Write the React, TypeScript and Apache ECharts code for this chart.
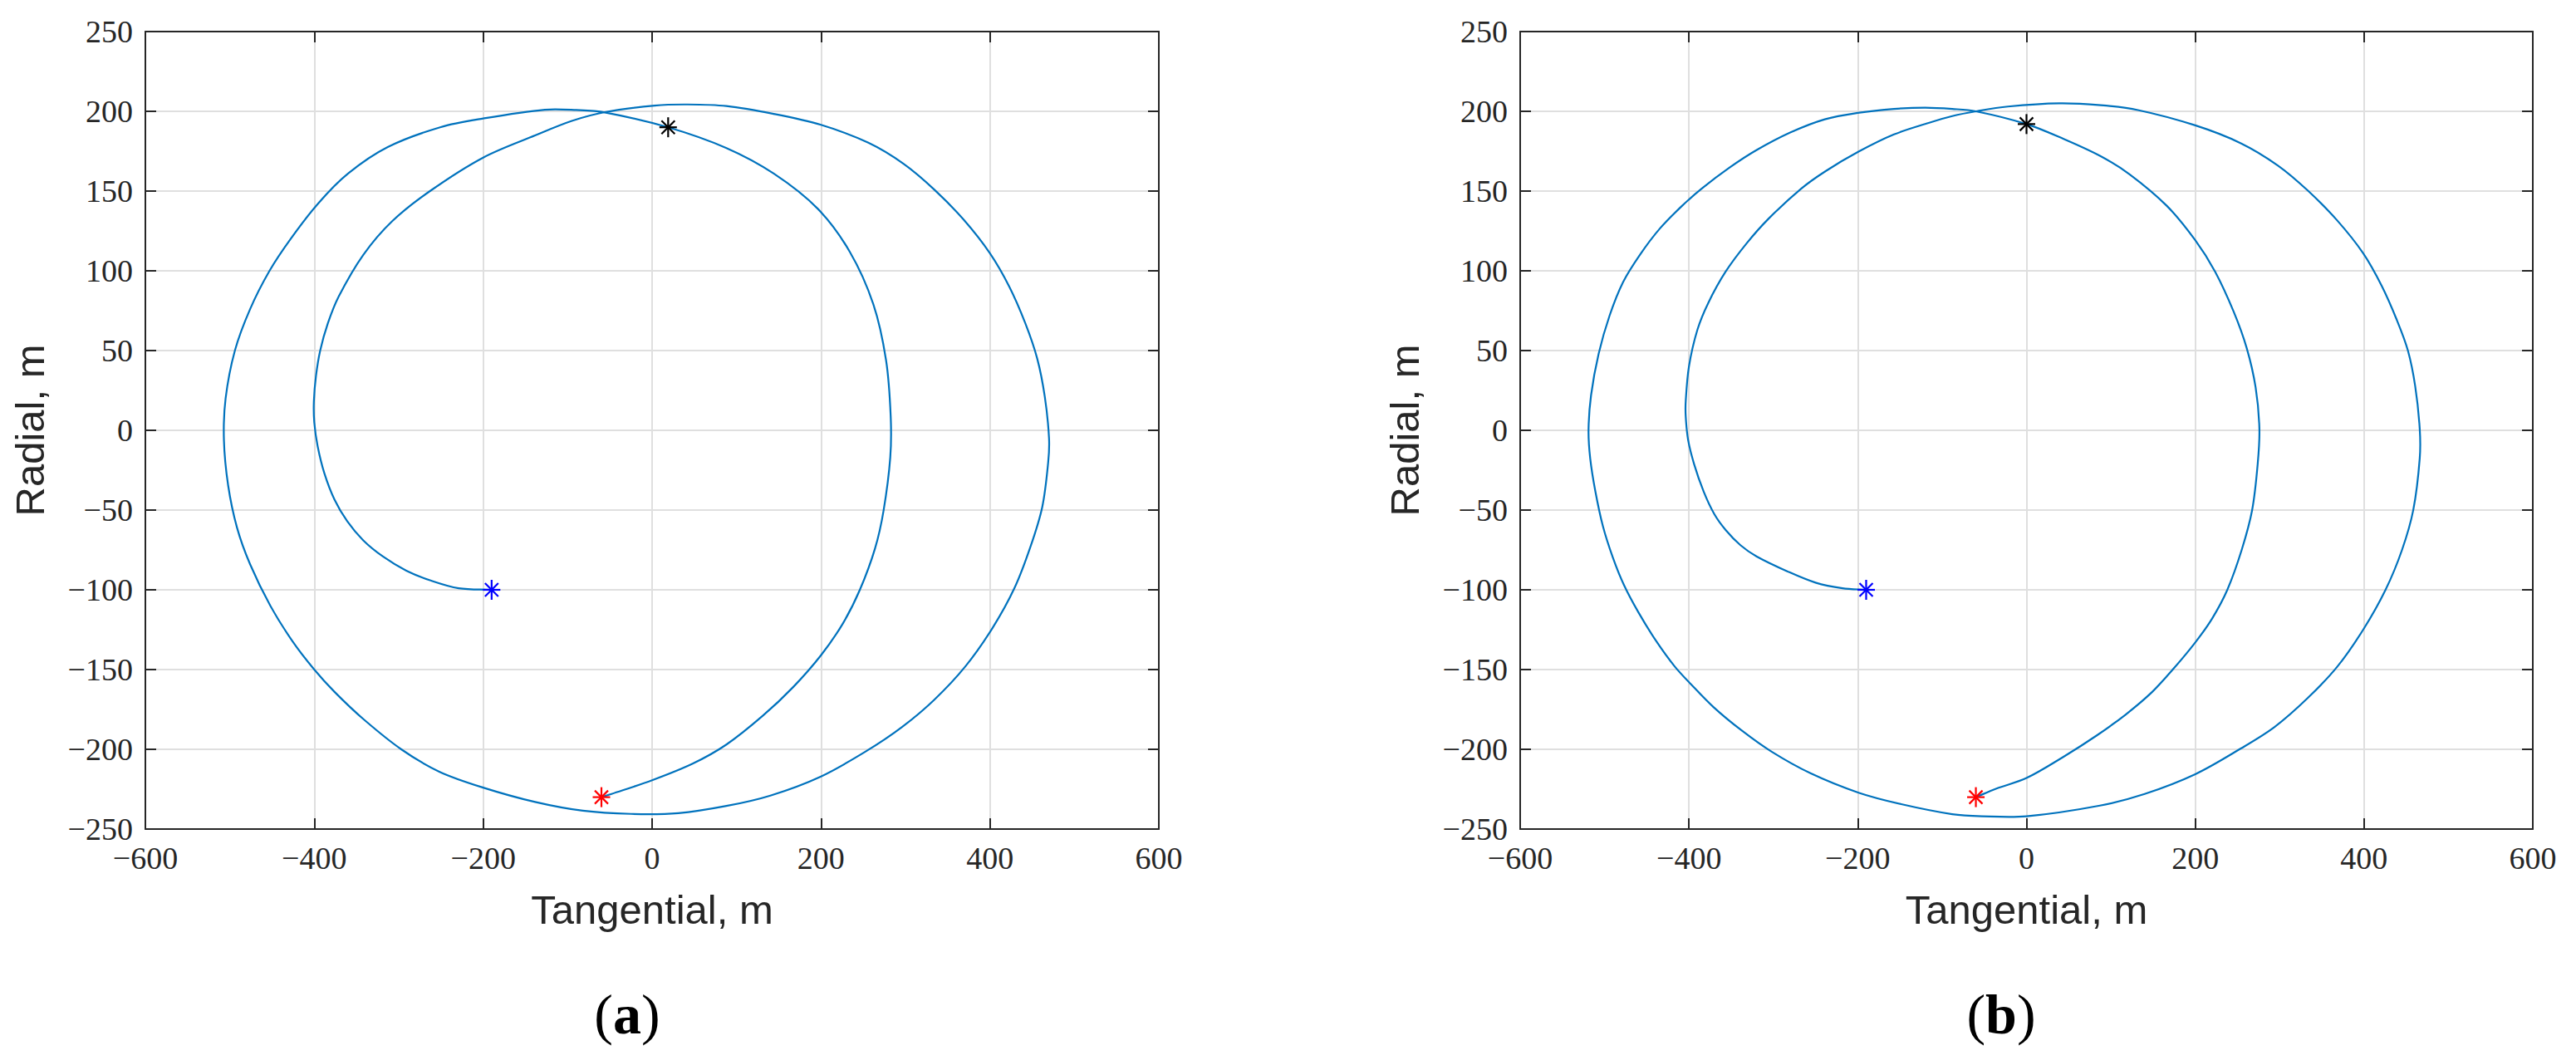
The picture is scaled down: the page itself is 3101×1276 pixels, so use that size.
import React, { useEffect, useRef } from 'react';
import * as echarts from 'echarts';

// ---- data ----
const xTickValues = [-600, -400, -200, 0, 200, 400, 600];
const yTickValues = [-250, -200, -150, -100, -50, 0, 50, 100, 150, 200, 250];

const trajectoryA: number[][] = [
  [-190, -100], [-229, -99], [-263, -94], [-291, -88], [-319, -79], [-342, -69], [-361, -57],
  [-376, -43.5], [-388, -27], [-396, -10], [-400, 5], [-400.5, 18], [-398, 34], [-393, 50],
  [-384, 67], [-371, 84], [-342, 110], [-308, 131], [-263, 150], [-200, 171], [-138, 185],
  [-95, 194], [-56, 199.5],
  [3, 203.6], [42, 204.3], [88, 203.3], [144, 198.4], [200, 191.5], [256, 180.3], [298, 167],
  [334, 151], [369, 132], [400, 111], [423, 90], [442, 67], [456, 45], [465, 21], [470, -5],
  [469, -20], [462, -48], [448, -73], [429, -99], [403, -124], [371, -148], [334, -169],
  [296, -186], [254, -201], [200, -217], [140, -229], [88, -235.5], [31, -240], [-25, -240.5],
  [-82, -238.5], [-138.5, -233], [-200, -224], [-252, -214], [-297, -200], [-342, -181],
  [-376, -164], [-400, -150], [-425.5, -132.5], [-452, -110], [-476, -84], [-491.5, -61],
  [-502, -34.5], [-507, -6],
  [-505, 20], [-494, 50], [-476, 76], [-453, 100], [-428, 120], [-395, 142.5], [-360, 161],
  [-313, 177.6], [-251, 190], [-200, 195.5], [-127, 201], [-90, 200.8], [-56, 199.3],
  [19, 190], [88, 177], [144, 161], [196, 139], [234, 112], [262, 79], [277, 44], [282.5, 9],
  [282, -17], [274, -50.6], [264, -74], [246, -100], [226, -121], [200, -141], [167, -161],
  [131, -179], [88, -197], [48, -209], [0, -219.4], [-48, -228], [-60, -230],
];

const trajectoryB: number[][] = [
  [-190, -100], [-218, -99], [-250, -95.5], [-283, -88.5], [-320, -79], [-339, -72],
  [-356.5, -62.5], [-370, -52.5], [-382.5, -38.5], [-394, -21], [-401, -6], [-403.8, 8.5],
  [-403.8, 18.5], [-400, 40], [-390, 63], [-377, 80], [-356.5, 99.5], [-332, 117],
  [-306, 132.5], [-267, 151.5], [-238, 162.5], [-199, 174.7], [-157, 185.5], [-116, 192.7],
  [-88, 197], [-60, 200],
  [-22, 203], [39, 205], [88, 203.8], [132, 200.8], [200, 191.2], [254, 180], [298, 166],
  [333, 150.5], [368, 131.7], [399, 111], [421, 90.5], [439, 69], [452, 50], [460.6, 27.8],
  [466, 1], [466, -17.6], [458.4, -49.8], [445, -75], [425.5, -100], [399, -125],
  [368, -148.4], [333, -168], [294, -186], [254, -199.5], [200, -215.6], [140, -228],
  [87, -235.3], [0, -242], [-53, -242], [-88, -240.7],
  [-148.5, -234.4], [-199, -227.2], [-256, -215], [-302, -201.5], [-338, -188], [-371, -173.5],
  [-398, -159], [-417, -148], [-439, -132], [-460, -114], [-477, -97], [-490, -80],
  [-502, -60], [-511, -38], [-517, -17.6], [-519, 0],
  [-516, 22], [-507, 48], [-494, 72], [-478, 93], [-457.5, 110.5], [-434.5, 126.5],
  [-408, 140.8], [-385, 151.5], [-352.5, 164.5], [-320.5, 175.5], [-280, 186.7], [-239, 195],
  [-200, 199], [-157, 201.5], [-120, 202.3], [-88, 201.5], [-60, 200],
  [0, 192], [43.5, 182.8], [87.4, 172], [122.5, 160.4], [166.4, 140.7], [200, 119.2],
  [223.5, 99.5], [245.5, 74.4], [261, 51.5], [271.5, 27], [276, 1], [274, -21], [267.4, -50],
  [255, -75], [238, -100], [220, -118], [200, -133], [175, -149], [149, -164], [118, -178],
  [83, -191.4], [43.5, -204.8], [0, -218], [-35.6, -224.6], [-60, -230],
];

const markersA: number[][] = [[-190, -100], [19, 190], [-60, -230]];
const markersB: number[][] = [[-190, -100], [0, 192], [-60, -230]];
const markerColors = ['#0000ff', '#000000', '#ff0000'];

const xAxisTitle = 'Tangential, m';
const yAxisTitle = 'Radial, m';
const panelLetters = ['a', 'b'];

// ---- styling ----
const INK = '#262626';
const GRID_COLOR = '#dfdfdf';
const LINE_COLOR = '#0072bd';
const SERIF = '"Liberation Serif", "DejaVu Serif", serif';
const SANS = '"Liberation Sans", Arial, Helvetica, sans-serif';

const fmt = (v: number) => (v < 0 ? '\u2212' + Math.abs(v) : String(v));

// smooth path through pixel points (tangent from neighbours, chord-scaled handles)
function smoothPath(pts: number[][]): string {
  const n = pts.length;
  const tan = pts.map((_, i) => {
    const a = pts[Math.max(i - 1, 0)];
    const b = pts[Math.min(i + 1, n - 1)];
    const dx = b[0] - a[0];
    const dy = b[1] - a[1];
    const l = Math.hypot(dx, dy) || 1;
    return [dx / l, dy / l];
  });
  let d = 'M' + pts[0][0].toFixed(2) + ',' + pts[0][1].toFixed(2);
  for (let i = 0; i < n - 1; i++) {
    const p = pts[i];
    const q = pts[i + 1];
    const L = Math.hypot(q[0] - p[0], q[1] - p[1]) / 3;
    const c1 = [p[0] + tan[i][0] * L, p[1] + tan[i][1] * L];
    const c2 = [q[0] - tan[i + 1][0] * L, q[1] - tan[i + 1][1] * L];
    d += ' C' + c1[0].toFixed(2) + ',' + c1[1].toFixed(2) + ' ' + c2[0].toFixed(2) + ',' +
      c2[1].toFixed(2) + ' ' + q[0].toFixed(2) + ',' + q[1].toFixed(2);
  }
  return d;
}

export default function App() {
  const ref = useRef<HTMLDivElement>(null);

  useEffect(() => {
    document.body.style.margin = '0';
    if (!ref.current) return;
    const chart = echarts.init(ref.current, undefined, { renderer: 'svg' });

    const panels = [
      { left: 175, width: 1220, traj: trajectoryA, marks: markersA, yTitleX: 36, letterX: 755 },
      { left: 1830, width: 1219, traj: trajectoryB, marks: markersB, yTitleX: 1691, letterX: 2409 },
    ];
    const top = 38;
    const height = 960;

    const grids: any[] = [];
    const xAxes: any[] = [];
    const yAxes: any[] = [];
    const series: any[] = [];
    const graphics: any[] = [];

    const axisLine = { show: true, onZero: false, lineStyle: { color: INK, width: 2 } };
    const axisTick = { show: true, inside: true, length: 13, lineStyle: { color: INK, width: 2 } };
    const label = (show: boolean, margin: number) => ({
      show,
      margin,
      fontFamily: SERIF,
      fontSize: 38,
      color: INK,
      formatter: fmt,
      showMinLabel: true,
      showMaxLabel: true,
    });

    panels.forEach((p, i) => {
      grids.push({ left: p.left, top, width: p.width, height, show: false });
      const xMin = xTickValues[0];
      const xMax = xTickValues[xTickValues.length - 1];
      const yMin = yTickValues[0];
      const yMax = yTickValues[yTickValues.length - 1];
      const xInt = xTickValues[1] - xTickValues[0];
      const yInt = yTickValues[1] - yTickValues[0];
      xAxes.push({
        gridIndex: i, type: 'value', min: xMin, max: xMax, interval: xInt, position: 'bottom',
        axisLine, axisTick, axisLabel: label(true, 16),
        splitLine: { show: true, lineStyle: { color: GRID_COLOR, width: 2 } },
      });
      xAxes.push({
        gridIndex: i, type: 'value', min: xMin, max: xMax, interval: xInt, position: 'top',
        axisLine, axisTick, axisLabel: { show: false }, splitLine: { show: false },
      });
      yAxes.push({
        gridIndex: i, type: 'value', min: yMin, max: yMax, interval: yInt, position: 'left',
        axisLine, axisTick, axisLabel: label(true, 15),
        splitLine: { show: true, lineStyle: { color: GRID_COLOR, width: 2 } },
      });
      yAxes.push({
        gridIndex: i, type: 'value', min: yMin, max: yMax, interval: yInt, position: 'right',
        axisLine, axisTick, axisLabel: { show: false }, splitLine: { show: false },
      });

      const traj = p.traj;
      series.push({
        type: 'custom',
        xAxisIndex: 2 * i,
        yAxisIndex: 2 * i,
        data: traj,
        silent: true,
        z: 3,
        renderItem: (params: any, api: any) => {
          if (params.dataIndex !== 0) return null;
          const pts = traj.map((q) => api.coord(q));
          return {
            type: 'path',
            shape: { pathData: smoothPath(pts) },
            style: { stroke: LINE_COLOR, lineWidth: 2.2, fill: 'none' },
          };
        },
      });
      series.push({
        type: 'custom',
        xAxisIndex: 2 * i,
        yAxisIndex: 2 * i,
        data: p.marks.map((m, k) => [m[0], m[1], k]),
        silent: true,
        z: 5,
        renderItem: (_params: any, api: any) => {
          const c = api.coord([api.value(0), api.value(1)]);
          const color = markerColors[api.value(2)];
          const r = 12;
          const h = 10.5;
          const d = 8;
          const style = { stroke: color, lineWidth: 2.2 };
          return {
            type: 'group',
            children: [
              { type: 'line', shape: { x1: c[0], y1: c[1] - r, x2: c[0], y2: c[1] + r }, style },
              { type: 'line', shape: { x1: c[0] - h, y1: c[1], x2: c[0] + h, y2: c[1] }, style },
              { type: 'line', shape: { x1: c[0] - d, y1: c[1] - d, x2: c[0] + d, y2: c[1] + d }, style },
              { type: 'line', shape: { x1: c[0] - d, y1: c[1] + d, x2: c[0] + d, y2: c[1] - d }, style },
            ],
          };
        },
      });

      graphics.push({
        type: 'text',
        x: p.left + p.width / 2,
        y: 1095,
        style: {
          text: xAxisTitle, fontFamily: SANS, fontSize: 49, fill: INK,
          align: 'center', verticalAlign: 'middle',
        },
      });
      graphics.push({
        type: 'text',
        x: p.yTitleX,
        y: top + height / 2,
        rotation: Math.PI / 2,
        style: {
          text: yAxisTitle, fontFamily: SANS, fontSize: 49, fill: INK,
          align: 'center', verticalAlign: 'middle',
        },
      });
      graphics.push({
        type: 'text',
        x: p.letterX,
        y: 1221,
        style: {
          text: '{p|(}{b|' + panelLetters[i] + '}{p|)}',
          align: 'center',
          verticalAlign: 'middle',
          rich: {
            p: { fontFamily: SERIF, fontSize: 68, fill: '#000' },
            b: { fontFamily: SERIF, fontSize: 68, fontWeight: 'bold', fill: '#000' },
          },
        },
      });
    });

    chart.setOption({
      animation: false,
      backgroundColor: '#ffffff',
      grid: grids,
      xAxis: xAxes,
      yAxis: yAxes,
      series,
      graphic: graphics,
    });

    return () => chart.dispose();
  }, []);

  return <div ref={ref} style={{ width: 3101, height: 1276 }} />;
}
